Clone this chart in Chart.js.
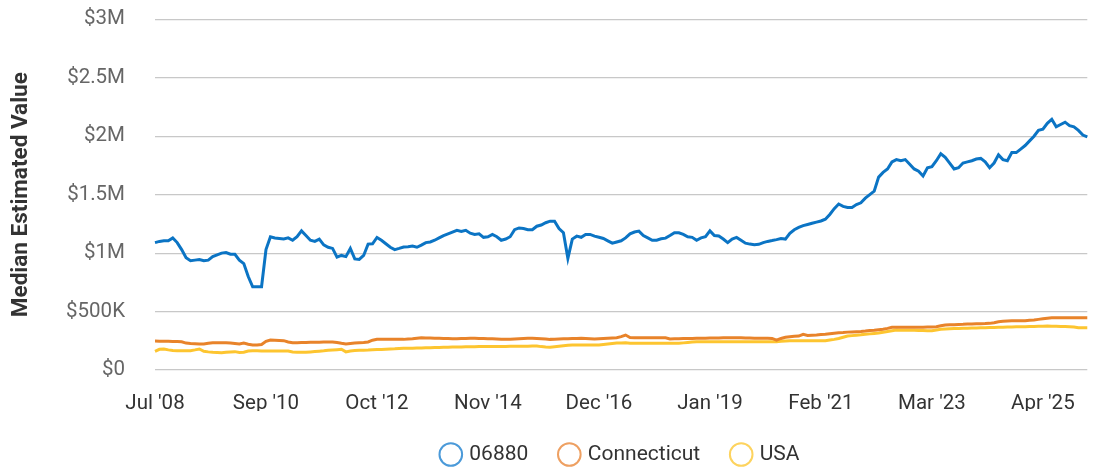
<!DOCTYPE html>
<html lang="en">
<head>
    <meta charset="UTF-8">
    <title>Median Estimated Value</title>
    <script src="https://cdn.jsdelivr.net/npm/chart.js"></script>
    <style>
        html, body { margin: 0; padding: 0; background: #fff; }
        .grafica { width: 1097px; height: 467px; }
    </style>
</head>
<body>
    <div class="grafica">
        <canvas id="myChart"></canvas>
    </div>
    <script>
        // values in thousands of dollars, monthly Jul 2008 .. Jan 2026
        const zip06880 = [
            1090,1100,1105,1105,1130,1090,1030,960,935,940,945,
            935,940,970,985,1000,1005,990,990,940,910,
            800,712,712,712,1030,1140,1130,1125,1120,1130,
            1110,1140,1190,1150,1110,1100,1120,1070,1050,1040,
            965,980,970,1040,950,946,980,1077,1080,1134,
            1110,1080,1050,1030,1040,1052,1055,1060,1050,1068,
            1090,1095,1110,1130,1150,1165,1180,1195,1185,1195,
            1170,1160,1165,1135,1140,1160,1140,1110,1120,1140,
            1200,1215,1210,1200,1200,1230,1240,1260,1273,1273,
            1210,1175,955,1120,1145,1135,1160,1160,1145,1135,
            1125,1105,1085,1095,1105,1130,1165,1180,1188,1150,
            1130,1110,1110,1122,1128,1150,1174,1174,1160,1140,
            1135,1110,1130,1140,1190,1150,1147,1120,1090,1120,
            1134,1110,1085,1077,1072,1075,1090,1100,1107,1115,
            1125,1120,1170,1200,1220,1235,1245,1255,1265,1275,
            1290,1330,1380,1420,1400,1390,1390,1415,1430,1470,
            1500,1530,1650,1690,1720,1780,1800,1790,1800,1760,
            1720,1700,1660,1730,1740,1790,1850,1820,1770,1720,
            1730,1770,1780,1790,1805,1810,1780,1730,1770,1840,
            1800,1790,1860,1860,1890,1920,1960,2000,2050,2060,
            2110,2145,2080,2100,2120,2090,2080,2050,2010,1995
        ];
        const connecticut = [
            248,247,246,245,244,243,242,230,226,224,222,
            222,228,233,233,233,233,230,226,222,230,
            220,214,214,218,245,256,255,253,251,240,
            233,234,235,236,237,238,238,239,240,240,
            235,228,222,226,230,233,236,240,255,262,
            262,262,262,262,262,262,265,268,272,276,
            274,273,272,271,270,269,268,267,269,270,
            272,271,270,269,268,267,266,264,262,264,
            266,268,270,271,272,270,268,265,262,264,
            266,267,268,269,270,272,270,268,266,268,
            270,272,274,276,285,299,278,276,276,276,
            276,276,276,276,276,266,267,268,269,270,
            270,271,272,272,273,274,274,275,275,276,
            276,275,274,273,272,272,271,271,270,256,
            270,280,285,288,290,305,295,298,300,303,
            305,310,315,319,321,324,326,328,330,333,
            337,340,344,348,356,365,365,365,365,365,
            365,365,366,367,368,370,378,385,387,388,
            390,391,393,394,395,396,397,399,405,413,
            416,419,421,421,421,421,425,428,433,438,
            443,447,447,447,447,447,447,447,447,447
        ];
        const usa = [
            160,177,180,172,166,165,165,165,165,172,180,
            160,155,152,150,148,151,154,157,150,152,
            162,165,164,163,163,162,162,162,162,162,
            154,152,152,152,155,158,161,164,168,171,
            174,177,155,163,166,168,170,171,173,175,
            176,178,180,181,183,185,186,187,188,189,
            190,191,192,193,194,195,196,196,197,198,
            199,199,200,200,200,201,201,202,202,203,
            203,204,204,204,205,205,200,197,195,199,
            203,207,211,214,214,214,214,214,214,214,
            218,222,226,230,232,233,228,228,228,228,
            228,228,228,228,228,228,228,228,232,236,
            239,242,242,242,242,242,242,242,242,242,
            242,242,242,242,242,242,242,242,242,242,
            245,248,250,250,250,250,250,250,250,250,
            250,256,262,270,280,290,294,298,301,305,
            309,313,317,322,330,336,342,341,340,340,
            339,338,337,336,336,342,348,350,352,354,
            356,357,358,359,360,361,362,363,364,365,
            366,367,368,369,370,371,372,373,374,375,
            376,375,374,373,372,370,368,362,362,362
        ];
        const tickLabels = ["Jul '08", "Sep '10", "Oct '12", "Nov '14", "Dec '16",
            "Jan '19", "Feb '21", "Mar '23", "Apr '25"];
        const seriesNames = ['06880', 'Connecticut', 'USA'];
        const lineColors = ['#0b74c4', '#e8832a', '#fdc530'];
        const legendColors = ['#4b9ad9', '#eea062', '#fdd35e'];

        // month categories
        const monthNames = ['Jan','Feb','Mar','Apr','May','Jun','Jul','Aug','Sep','Oct','Nov','Dec'];
        const labels = zip06880.map((v, i) => {
            const m = (6 + i) % 12;
            const y = 2008 + Math.floor((6 + i) / 12);
            return monthNames[m] + " '" + String(y).slice(2);
        });

        const font = 'Roboto';
        const datasets = [zip06880, connecticut, usa].map((data, i) => ({
            label: seriesNames[i],
            data,
            borderColor: lineColors[i],
            backgroundColor: 'transparent',
            borderWidth: 3,
            pointRadius: 0,
            tension: 0
        }));

        function money(v) {
            if (v === 0) return '$0';
            if (v < 1000) return '$' + v + 'K';
            return '$' + (v / 1000) + 'M';
        }

        const config = {
            type: 'line',
            data: { labels, datasets },
            options: {
                responsive: true,
                maintainAspectRatio: false,
                animation: false,
                layout: { padding: { left: 0, right: 7, top: 0, bottom: -8 } },
                plugins: {
                    tooltip: { enabled: false },
                    legend: {
                        position: 'bottom',
                        fullSize: false,
                        labels: {
                            usePointStyle: true,
                            pointStyle: 'circle',
                            boxWidth: 16,
                            boxHeight: 16,
                            padding: 33,
                            color: '#333',
                            font: { family: font, size: 21 },
                            generateLabels(chart) {
                                const items = Chart.defaults.plugins.legend.labels.generateLabels(chart);
                                items.forEach((it, i) => {
                                    it.strokeStyle = legendColors[i];
                                    it.fillStyle = 'transparent';
                                    it.lineWidth = 2;
                                });
                                return items;
                            }
                        }
                    }
                },
                scales: {
                    x: {
                        afterFit(scale) { scale.height = 41; },
                        grid: { display: false, drawTicks: false },
                        border: { display: false },
                        ticks: {
                            autoSkip: false,
                            maxRotation: 0,
                            padding: 22,
                            color: '#333',
                            font: { family: font, size: 20.5 },
                            callback(value, index) {
                                return index % 25 === 0 ? tickLabels[index / 25] : null;
                            }
                        }
                    },
                    y: {
                        min: 0,
                        max: 3000,
                        afterFit(scale) { scale.width = 155; },
                        grid: { color: '#c8c8c8', lineWidth: 1.2, drawTicks: true, tickLength: 23, tickColor: 'transparent' },
                        border: { display: false },
                        ticks: {
                            stepSize: 500,
                            padding: 7,
                            color: '#666',
                            font: { family: font, size: 20.5 },
                            callback: money
                        },
                        title: {
                            display: true,
                            text: 'Median Estimated Value',
                            color: '#333',
                            font: { family: font, size: 22.5, weight: 'bold' },
                            padding: { top: 8, bottom: 0 }
                        }
                    }
                }
            }
        };

        new Chart(document.getElementById('myChart'), config);
    </script>
</body>
</html>
